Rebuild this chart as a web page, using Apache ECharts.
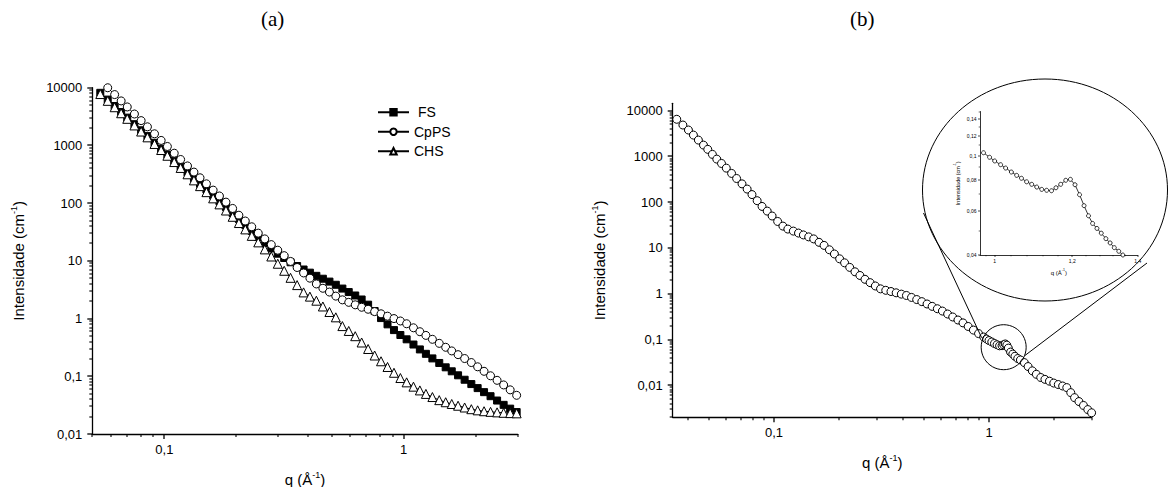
<!DOCTYPE html>
<html><head><meta charset="utf-8">
<script src="https://cdn.jsdelivr.net/npm/echarts@6/dist/echarts.min.js"></script>
<style>html,body{margin:0;padding:0;background:#fff}#c{width:1168px;height:487px}</style>
</head><body><div id="c"></div>
<script>
// ---------- (a) data ----------
const qA = [0.054,0.058,0.062,0.066,0.070,0.075,0.080,0.085,0.091,0.097,0.103,0.110,0.117,0.125,0.133,0.141,0.150,0.160,0.170,0.181,0.193,0.205,0.218,0.232,0.247,0.263,0.280,0.298,0.317,0.337,0.359,0.382,0.406,0.432,0.460,0.490,0.521,0.555,0.590,0.628,0.668,0.711,0.757,0.805,0.857,0.912,0.970,1.03,1.10,1.17,1.24,1.32,1.41,1.50,1.59,1.69,1.80,1.92,2.04,2.17,2.31,2.46,2.62,2.79,2.97];
const fsA = [8150,6220,4820,3790,3030,2330,1830,1450,1110,874,695,541,427,340,270,216,172,136,108,85.5,67.5,53,42,33,25.8,20.4,16.4,13.3,11.2,9.44,8.13,7.08,6.24,5.50,4.90,4.37,3.85,3.31,2.88,2.51,2.14,1.74,1.35,1.02,0.794,0.631,0.519,0.437,0.355,0.292,0.245,0.204,0.170,0.143,0.122,0.104,0.0871,0.0733,0.0624,0.0531,0.0452,0.0380,0.0320,0.0275,0.0240];
const cppsA = [null,9980,7600,5900,4640,3500,2690,2100,1590,1220,959,733,570,441,345,275,216,168,133,104,80.9,61.7,49,38.9,30.2,24,19.1,15.3,12.3,9.77,7.67,6.17,5.01,3.98,3.35,2.88,2.45,2.11,1.91,1.73,1.57,1.45,1.32,1.21,1.10,1.00,0.908,0.813,0.692,0.592,0.511,0.437,0.372,0.318,0.275,0.237,0.203,0.173,0.146,0.122,0.102,0.0851,0.0708,0.0582,0.0468];
const chsA = [7760,5920,4590,3610,2890,2220,1740,1380,1060,832,662,515,407,316,248,197,155,121,95.2,74.5,58,45.2,35.1,27.1,20.9,15.8,11.9,8.91,6.73,5.08,3.80,2.84,2.40,2.04,1.62,1.30,1.05,0.741,0.61,0.495,0.385,0.297,0.229,0.182,0.145,0.115,0.0933,0.0785,0.0661,0.0569,0.0495,0.0437,0.0386,0.0355,0.0331,0.0309,0.0288,0.0269,0.0257,0.0248,0.0242,0.0237,0.0233,0.0230,0.0228];
const seriesNamesA = ['FS','CpPS','CHS'];

// ---------- (b) data ----------
const qB = [0.0353,0.0377,0.040,0.0422,0.0445,0.047,0.0492,0.0517,0.0542,0.057,0.060,0.0635,0.067,0.071,0.075,0.079,0.0835,0.088,0.093,0.098,0.104,0.110,0.116,0.123,0.130,0.137,0.145,0.153,0.162,0.171,0.181,0.191,0.202,0.213,0.225,0.238,0.251,0.265,0.280,0.296,0.313,0.331,0.350,0.370,0.391,0.413,0.436,0.461,0.487,0.515,0.544,0.575,0.607,0.642,0.678,0.717,0.757,0.800,0.846,0.894,0.945,0.974,1.0,1.03,1.06,1.09,1.12,1.15,1.17,1.19,1.21,1.23,1.26,1.29,1.32,1.36,1.40,1.46,1.52,1.59,1.66,1.74,1.82,1.91,2.0,2.1,2.2,2.3,2.4,2.5,2.62,2.75,2.88,3.0];
const iB = [6490,4860,3780,2930,2280,1770,1430,1110,875,703,556,426,330,252,194,147,108,80.9,64,50,38,30.1,25.9,23.4,21.2,19.3,17.5,15.8,13.3,11.4,9.14,7.4,5.8,4.74,3.77,3.02,2.51,2.07,1.75,1.48,1.28,1.19,1.12,1.05,0.982,0.918,0.832,0.748,0.673,0.598,0.531,0.471,0.419,0.361,0.311,0.267,0.231,0.193,0.161,0.135,0.1135,0.1026,0.095,0.0885,0.082,0.077,0.073,0.0735,0.077,0.080,0.0755,0.065,0.0532,0.0482,0.0431,0.0385,0.0358,0.0313,0.0257,0.0207,0.0174,0.0148,0.0135,0.0123,0.0112,0.0104,0.00966,0.00891,0.00692,0.00537,0.00442,0.00363,0.00295,0.00251];

// ---------- inset data ----------
const qIn = [0.974,0.988,1.000,1.014,1.026,1.040,1.053,1.065,1.078,1.091,1.104,1.117,1.130,1.143,1.155,1.168,1.182,1.195,1.208,1.221,1.234,1.247,1.259,1.272,1.285,1.299,1.312,1.325,1.339,1.352];
const iIn = [0.1026,0.0984,0.0951,0.0919,0.0891,0.0859,0.0833,0.0811,0.0785,0.0767,0.0748,0.0732,0.0726,0.0723,0.0743,0.0767,0.0796,0.0803,0.0764,0.0697,0.063,0.0574,0.0535,0.0511,0.0489,0.0465,0.0447,0.0428,0.0414,0.04];
const insetXTicks = [1, 1.2, 1.4];
const insetYTicks = [0.04, 0.06, 0.08, 0.1, 0.12, 0.14];
const insetXMinor = [0.98,1.04,1.08,1.12,1.16,1.24,1.28,1.32,1.36];
const insetYMinor = [0.05,0.07,0.09,0.11,0.13,0.15];
const zoomPoint = [1.17, 0.068];

// axis ranges
const rangeA = {x:[0.05, 3], y:[0.01, 10000]};
const rangeB = {x:[0.0338, 3], y:[0.002, 14500]};
const rangeIn = {x:[0.966, 1.4], y:[0.04, 0.15]};

// ---------- helpers ----------
const FONT = '"Liberation Sans", Arial, sans-serif';
const L = Math.log10;
const black = '#000';
function commaNum(v){ return String(+(+v).toPrecision(6)).replace('.', ','); }
function decadeLabel(v){ const l = L(v); return Math.abs(l - Math.round(l)) < 1e-6 ? commaNum(v) : ''; }
function pairs(xs, ys){ const out = []; xs.forEach((x,i)=>{ if (ys[i] != null) out.push([x, ys[i]]); }); return out; }
function minorVals(lo, hi){ const out = []; for (let e = Math.floor(L(lo)); e <= Math.ceil(L(hi)); e++){ for (let m = 2; m <= 9; m++){ const v = +(m * Math.pow(10, e)).toPrecision(6); if (v >= lo && v <= hi) out.push(v); } } return out; }
function decadeVals(lo, hi){ const out = []; for (let e = Math.ceil(L(lo) - 1e-9); e <= Math.floor(L(hi) + 1e-9); e++) out.push(+Math.pow(10, e).toPrecision(6)); return out; }
const rich = (fs) => ({ t:{fontSize:fs, fontFamily:FONT, color:black, lineHeight:fs+3}, s:{fontSize:Math.round(fs*0.6*10)/10, fontFamily:FONT, color:black, verticalAlign:'top', lineHeight:fs+3} });

function mainLogAxis(dim, grid, rng, name, nameGap){
  return {
    type:'log', gridIndex:grid, min:rng[0], max:rng[1], position: dim==='x'?'bottom':'left',
    axisLine:{onZero:false, lineStyle:{color:black, width:1.3}},
    axisTick:{show:false},
    axisLabel:{formatter:decadeLabel, color:black, fontSize:13, fontFamily:FONT, margin: dim==='x'?9:10},
    splitLine:{show:false}, minorTick:{show:false},
    name:name, nameLocation:'middle', nameGap:nameGap, nameTextStyle:{rich:rich(15)}
  };
}

const xAxes = [
  mainLogAxis('x', 0, rangeA.x, '{t|q (Å}{s|-1}{t|)}', 36),
  mainLogAxis('x', 1, rangeB.x, '{t|q (Å}{s|-1}{t|)}', 36),
  { type:'log', gridIndex:2, min:rangeIn.x[0], max:rangeIn.x[1], position:'bottom', axisLine:{onZero:false, lineStyle:{color:black, width:0.8}}, axisTick:{show:false}, axisLabel:{show:false}, splitLine:{show:false} },
  { type:'value', gridIndex:2, min:L(rangeIn.x[0]), max:L(rangeIn.x[1]), position:'bottom', axisLine:{show:false, onZero:false},
    axisTick:{show:false},
    axisLabel:{show:true, customValues:insetXTicks.map(L), formatter:v=>commaNum(+Math.pow(10,v).toFixed(3)), fontSize:5, fontFamily:FONT, color:black, margin:3.5},
    splitLine:{show:false}, name:'{t|q (Å}{s|-1}{t|)}', nameLocation:'middle', nameGap:13, nameTextStyle:{rich:rich(6)} }
];
const yAxes = [
  mainLogAxis('y', 0, rangeA.y, '{t|Intensidade (cm}{s|-1}{t|)}', 65),
  mainLogAxis('y', 1, rangeB.y, '{t|Intensidade (cm}{s|-1}{t|)}', 64),
  { type:'log', gridIndex:2, min:rangeIn.y[0], max:rangeIn.y[1], position:'left', axisLine:{onZero:false, lineStyle:{color:black, width:0.8}}, axisTick:{show:false}, axisLabel:{show:false}, splitLine:{show:false} },
  { type:'value', gridIndex:2, min:L(rangeIn.y[0]), max:L(rangeIn.y[1]), position:'left', axisLine:{show:false, onZero:false},
    axisTick:{show:false},
    axisLabel:{show:true, customValues:insetYTicks.map(L), formatter:v=>commaNum(+Math.pow(10,v).toFixed(3)), fontSize:5, fontFamily:FONT, color:black, margin:3.5},
    splitLine:{show:false}, name:'{t|Intensidade (cm}{s|-1}{t|)}', nameLocation:'middle', nameGap:18, nameTextStyle:{rich:rich(5.5)} }
];

const lineBase = { type:'line', showSymbol:true, showAllSymbol:true, silent:true, animation:false, clip:true,
  lineStyle:{color:black, width:1}, emphasis:{disabled:true} };
const openSym = {color:'#fff', borderColor:black, borderWidth:1};

const chart = echarts.init(document.getElementById('c'), null, {renderer:'svg', width:1168, height:487});
chart.setOption({
  animation:false,
  backgroundColor:'#fff',
  textStyle:{fontFamily:FONT},
  title:[
    {text:'(a)', left:261, top:8, padding:0, textStyle:{fontFamily:'"Liberation Serif", "Times New Roman", serif', fontSize:21, fontWeight:'normal', color:black}},
    {text:'(b)', left:850, top:8, padding:0, textStyle:{fontFamily:'"Liberation Serif", "Times New Roman", serif', fontSize:21, fontWeight:'normal', color:black}}
  ],
  legend:{ data:seriesNamesA, orient:'vertical', left:377, top:104, itemWidth:31, itemHeight:8, itemGap:3, padding:0,
    formatter: n => n==='FS' ? ' FS' : n, selectedMode:false,
    textStyle:{fontSize:14, fontFamily:FONT, color:black, lineHeight:16.5} },
  grid:[
    {left:92.3, top:87.7, width:425.4, height:346.3, containLabel:false, outerBoundsMode:'none'},
    {left:672.7, top:103.3, width:418.9, height:314, containLabel:false, outerBoundsMode:'none'},
    {left:980, top:111.5, width:157.7, height:143.5, containLabel:false, outerBoundsMode:'none'}
  ],
  xAxis:xAxes, yAxis:yAxes,
  series:[
    Object.assign({}, lineBase, {name:seriesNamesA[0], xAxisIndex:0, yAxisIndex:0, data:pairs(qA, fsA), symbol:'rect', symbolSize:7, itemStyle:{color:black, borderColor:black, borderWidth:1}}),
    Object.assign({}, lineBase, {name:seriesNamesA[1], xAxisIndex:0, yAxisIndex:0, data:pairs(qA, cppsA), symbol:'circle', symbolSize:8, itemStyle:openSym}),
    Object.assign({}, lineBase, {name:seriesNamesA[2], xAxisIndex:0, yAxisIndex:0, data:pairs(qA, chsA), symbol:'triangle', symbolSize:9, itemStyle:openSym}),
    Object.assign({}, lineBase, {name:'b', xAxisIndex:1, yAxisIndex:1, data:pairs(qB, iB), symbol:'circle', symbolSize:8, itemStyle:openSym}),
    Object.assign({}, lineBase, {name:'inset', xAxisIndex:2, yAxisIndex:2, data:pairs(qIn, iIn), symbol:'circle', symbolSize:4, lineStyle:{color:black, width:0.8}, itemStyle:{color:'#fff', borderColor:black, borderWidth:0.8}})
  ]
});

// ---------- tick marks, placed through each axis pair's own scale ----------
function ticks(axisIdx, dim, vals, other, len, w){
  const finder = {xAxisIndex:axisIdx, yAxisIndex:axisIdx};
  return vals.map(v => {
    const p = chart.convertToPixel(finder, dim==='x' ? [v, other] : [other, v]);
    const shape = dim==='x'
      ? {x1:Math.round(p[0]), y1:p[1], x2:Math.round(p[0]), y2:p[1]+len}
      : {x1:p[0]-len, y1:Math.round(p[1]), x2:p[0], y2:Math.round(p[1])};
    return {type:'line', shape:shape, style:{stroke:black, lineWidth:w}, silent:true, z:50};
  });
}
const tickEls = [].concat(
  ticks(0, 'x', decadeVals(rangeA.x[0], rangeA.x[1]), rangeA.y[0], 5, 1.3),
  ticks(0, 'x', minorVals(rangeA.x[0], rangeA.x[1]), rangeA.y[0], 3, 1.1),
  ticks(0, 'y', decadeVals(rangeA.y[0], rangeA.y[1]), rangeA.x[0], 5, 1.3),
  ticks(0, 'y', minorVals(rangeA.y[0], rangeA.y[1]), rangeA.x[0], 3, 1.1),
  ticks(1, 'x', decadeVals(rangeB.x[0], rangeB.x[1]), rangeB.y[0], 5, 1.3),
  ticks(1, 'x', minorVals(rangeB.x[0], rangeB.x[1]), rangeB.y[0], 3, 1.1),
  ticks(1, 'y', decadeVals(rangeB.y[0], rangeB.y[1]), rangeB.x[0], 5, 1.3),
  ticks(1, 'y', minorVals(rangeB.y[0], rangeB.y[1]), rangeB.x[0], 3, 1.1),
  ticks(2, 'x', insetXTicks, rangeIn.y[0], 2, 0.7),
  ticks(2, 'x', insetXMinor, rangeIn.y[0], 1.3, 0.6),
  ticks(2, 'y', insetYTicks, rangeIn.x[0], 2, 0.7),
  ticks(2, 'y', insetYMinor, rangeIn.x[0], 1.3, 0.6)
);

// zoom annotation (small circle around the bump, large ellipse holding the inset, connecting lines)
const c = chart.convertToPixel({seriesIndex:3}, zoomPoint);
const r = 22.5;
chart.setOption({
  graphic:[
    {type:'circle', shape:{cx:c[0], cy:c[1], r:r}, style:{fill:'none', stroke:black, lineWidth:1}, silent:true, z:100},
    {type:'ellipse', shape:{cx:1045, cy:190, rx:122.5, ry:111}, style:{fill:'none', stroke:black, lineWidth:1}, silent:true, z:100},
    {type:'line', shape:{x1:c[0]-22, y1:c[1]-9.5, x2:923.5, y2:213}, style:{stroke:black, lineWidth:1}, silent:true, z:100},
    {type:'line', shape:{x1:c[0]+21, y1:c[1]+8.5, x2:1147, y2:263}, style:{stroke:black, lineWidth:1}, silent:true, z:100}
  ].concat(tickEls)
});
</script>
</body></html>
